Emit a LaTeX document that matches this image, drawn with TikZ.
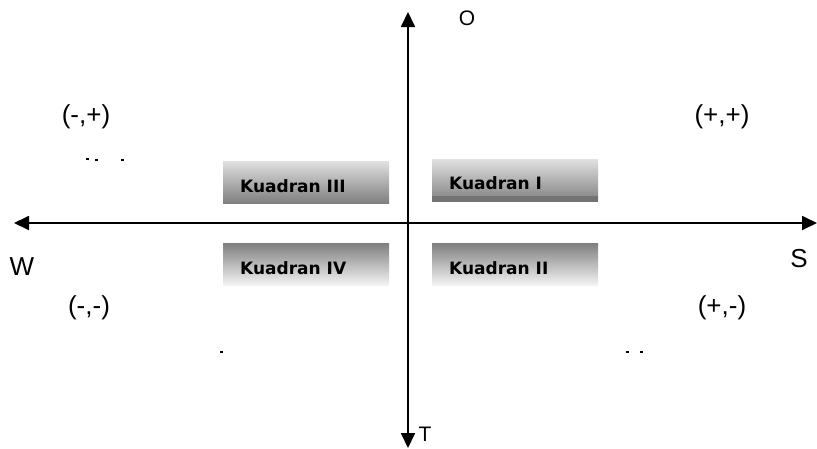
\documentclass[tikz,border=0pt]{standalone}
\usepackage{fontspec}
\setmainfont{Liberation Sans}
\newfontfamily\kfont{DejaVu Sans}
\usetikzlibrary{arrows.meta}
\tikzset{
  axis/.style={line width=1.8pt, -{Triangle[length=15pt,width=14pt]}},
  kbox/.style={draw=none, minimum width=166pt, minimum height=42pt, inner sep=0pt},
  kdown/.style={kbox, top color=black!12, bottom color=black!50},
  kup/.style={kbox, top color=black!50, bottom color=black!4},
  ktext/.style={anchor=west, inner sep=0pt, font=\kfont\fontsize{17}{19}\selectfont\bfseries},
  lbl/.style={inner sep=0pt, font=\fontsize{26}{28}\selectfont},
  small lbl/.style={inner sep=0pt, font=\fontsize{21}{23}\selectfont},
  speck/.style={fill=black, inner sep=0pt, minimum width=3pt, minimum height=1.6pt}
}
\begin{document}
\begin{tikzpicture}[x=1pt,y=-1pt]
\useasboundingbox (0,0) rectangle (817,448);
% quadrant boxes
\node[kdown] (b3) at (306,182) {};
\node[kdown] (b1) at (515,180.5) {};
\fill[black!55] (432,196) rectangle (598,202);
\node[kup] (b4) at (306,264.5) {};
\node[kup] (b2) at (515,264.5) {};
\node[ktext] (t3) at (240,186) {Kuadran III};
\node[ktext] (t1) at (449,183) {Kuadran I};
\node[ktext] (t4) at (240,268) {Kuadran IV};
\node[ktext] (t2) at (449,268) {Kuadran II};
% axes
\coordinate (c) at (408,223);
\coordinate (west) at (14,223);
\coordinate (east) at (817,223);
\coordinate (north) at (408,12);
\coordinate (south) at (408,448);
\draw[axis] (c) -- (west);
\draw[axis] (c) -- (east);
\draw[axis] (c) -- (north);
\draw[axis] (c) -- (south);
% labels
\node[small lbl] (o) at (467,18) {O};
\node[small lbl] (t) at (425,434) {T};
\node[lbl] (w) at (22,267) {W};
\node[lbl] (s) at (799,259) {S};
\node[lbl] (mp) at (86,117) {(-,+)};
\node[lbl] (pp) at (722,117) {(+,+)};
\node[lbl] (mm) at (89,308) {(-,-)};
\node[lbl] (pm) at (722,308) {(+,-)};
% specks
\node[speck] (s1) at (87,159) {};
\node[speck] (s2) at (96,160) {};
\node[speck] (s3) at (122,160) {};
\node[speck] (s4) at (221,352) {};
\node[speck] (s5) at (627,352) {};
\node[speck] (s6) at (641,352) {};
\end{tikzpicture}
\end{document}
